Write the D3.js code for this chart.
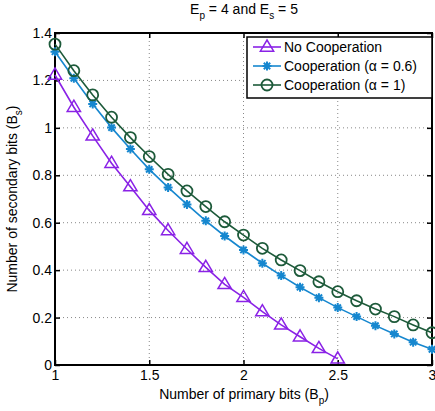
<!DOCTYPE html>
<html><head><meta charset="utf-8">
<script src="https://cdn.jsdelivr.net/npm/d3@7"></script>
<style>body{margin:0;background:#fff}svg{display:block;font-family:"Liberation Sans",Arial,sans-serif}</style>
</head><body><svg id="c" width="435" height="411"></svg>
<script>
const xValues = [1,1.1,1.2,1.3,1.4,1.5,1.6,1.7,1.8,1.9,2,2.1,2.2,2.3,2.4,2.5,2.6,2.7,2.8,2.9,3];
const noCoop = [1.223,1.087,0.966,0.851,0.752,0.652,0.567,0.488,0.412,0.340,0.285,0.225,0.169,0.119,0.070,0.026];
const coop06 = [1.321,1.209,1.101,1.001,0.911,0.825,0.749,0.677,0.608,0.544,0.485,0.429,0.377,0.328,0.284,0.242,0.204,0.166,0.131,0.096,0.066];
const coop1 = [1.353,1.241,1.139,1.045,0.959,0.879,0.804,0.734,0.668,0.604,0.548,0.492,0.443,0.398,0.351,0.309,0.271,0.236,0.204,0.169,0.136];
const xTicks = [1,1.5,2,2.5,3];
const yTicks = [0,0.2,0.4,0.6,0.8,1,1.2,1.4];
const seriesNames = ["No Cooperation","Cooperation (\u03B1 = 0.6)","Cooperation (\u03B1 = 1)"];
const colors = ["#8a22e6","#1687cf","#1d5a3a"];
const markers = ["tri","star","circ"];

const svg = d3.select("#c");
const L=55,R=432,T=33,B=365;
const x = d3.scaleLinear().domain([1,3]).range([L,R]);
const y = d3.scaleLinear().domain([0,1.4]).range([B,T]);

// grid
const g = svg.append("g");
g.selectAll(".gx").data(xTicks.slice(1,-1)).enter().append("line")
 .attr("x1",d=>x(d)).attr("x2",d=>x(d)).attr("y1",T).attr("y2",B)
 .attr("stroke","#888").attr("stroke-width",1).attr("stroke-dasharray","1,3");
g.selectAll(".gy").data(yTicks.slice(1,-1)).enter().append("line")
 .attr("y1",d=>y(d)).attr("y2",d=>y(d)).attr("x1",L).attr("x2",R)
 .attr("stroke","#888").attr("stroke-width",1).attr("stroke-dasharray","1,3");

// axes
svg.append("g").attr("transform",`translate(0,${B})`)
 .call(d3.axisBottom(x).tickValues(xTicks).tickFormat(d3.format("")).tickSizeInner(-5).tickSizeOuter(0).tickPadding(5));
svg.append("g").attr("transform",`translate(${L},0)`)
 .call(d3.axisLeft(y).tickValues(yTicks).tickFormat(d=>d===0?"0":d3.format("")(d)).tickSizeInner(-5).tickSizeOuter(0).tickPadding(3));
svg.append("g").attr("transform",`translate(0,${T})`)
 .call(d3.axisTop(x).tickValues(xTicks).tickFormat("").tickSizeInner(-5).tickSizeOuter(0));
svg.append("g").attr("transform",`translate(${R},0)`)
 .call(d3.axisRight(y).tickValues(yTicks).tickFormat("").tickSizeInner(-5).tickSizeOuter(0));
svg.selectAll(".domain").remove();
svg.selectAll(".tick line").attr("stroke","#000").attr("stroke-width",1.5);
svg.selectAll(".tick text").attr("fill","#000").style("font-size","14px").style("font-family","Liberation Sans, Arial, sans-serif");
svg.append("rect").attr("x",L).attr("y",T).attr("width",R-L).attr("height",B-T)
 .attr("fill","none").attr("stroke","#000").attr("stroke-width",2);

function drawMarker(sel,type,color,cx,cy){
  if(type==="tri"){
    const s=7;
    sel.append("path").attr("d",`M${cx},${cy-s}L${cx+s*0.95},${cy+s*0.6}L${cx-s*0.95},${cy+s*0.6}Z`)
     .attr("fill","none").attr("stroke",color).attr("stroke-width",1.5);
  } else if(type==="star"){
    const r=4.5;
    let d="";
    for(let k=0;k<4;k++){const a=k*Math.PI/4;d+=`M${cx-r*Math.cos(a)},${cy-r*Math.sin(a)}L${cx+r*Math.cos(a)},${cy+r*Math.sin(a)}`;}
    sel.append("path").attr("d",d).attr("stroke",color).attr("stroke-width",2);
  } else {
    sel.append("circle").attr("cx",cx).attr("cy",cy).attr("r",5.5).attr("fill","none").attr("stroke",color).attr("stroke-width",1.8);
  }
}

const allData=[noCoop,coop06,coop1];
const line=d3.line().x(d=>x(d[0])).y(d=>y(d[1]));
allData.forEach((vals,i)=>{
  const pts=vals.map((v,j)=>[xValues[j],v]);
  const sg=svg.append("g");
  sg.append("path").attr("d",line(pts)).attr("fill","none").attr("stroke",colors[i]).attr("stroke-width",1.6);
  pts.forEach(p=>drawMarker(sg,markers[i],colors[i],x(p[0]),y(p[1])));
});

// legend
const lg=svg.append("g");
lg.append("rect").attr("x",247).attr("y",37).attr("width",185).attr("height",61).attr("fill","#fff").attr("stroke","#000").attr("stroke-width",1.5);
const rows=[47,66,85];
seriesNames.forEach((n,i)=>{
  lg.append("line").attr("x1",253).attr("x2",281).attr("y1",rows[i]).attr("y2",rows[i]).attr("stroke",colors[i]).attr("stroke-width",1.6);
  drawMarker(lg,markers[i],colors[i],267,rows[i]);
  lg.append("text").attr("x",284).attr("y",rows[i]+5).text(n).style("font-size","14px").attr("fill","#000");
});

// title
const t=svg.append("text").attr("x",244).attr("y",14).attr("text-anchor","middle").style("font-size","14px");
t.append("tspan").text("E");
t.append("tspan").text("p").attr("dy",5).style("font-size","10px");
t.append("tspan").text(" = 4 and E").attr("dy",-5);
t.append("tspan").text("s").attr("dy",5).style("font-size","10px");
t.append("tspan").text(" = 5").attr("dy",-5);

// x label
const xl=svg.append("text").attr("x",244).attr("y",399).attr("text-anchor","middle").style("font-size","14px");
xl.append("tspan").text("Number of primary bits (B");
xl.append("tspan").text("p").attr("dy",5).style("font-size","10px");
xl.append("tspan").text(")").attr("dy",-5);

// y label
const yl=svg.append("text").attr("transform",`translate(17,${(T+B)/2}) rotate(-90)`).attr("text-anchor","middle").style("font-size","14px");
yl.append("tspan").text("Number of secondary bits (B");
yl.append("tspan").text("s").attr("dy",5).style("font-size","10px");
yl.append("tspan").text(")").attr("dy",-5);
</script></body></html>
